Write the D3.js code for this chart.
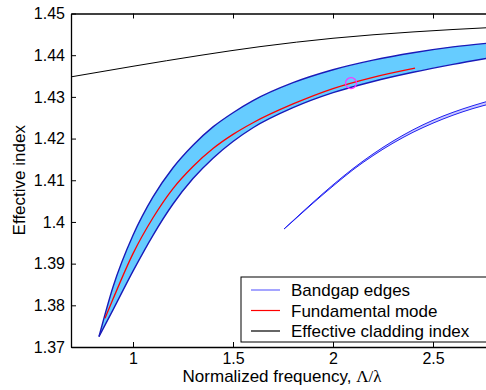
<!DOCTYPE html>
<html>
<head>
<meta charset="utf-8">
<script src="https://cdn.jsdelivr.net/npm/d3@7"></script>
<style>
  body { margin: 0; background: #fff; }
  svg { display: block; font-family: "Liberation Sans", Arial, sans-serif; }
</style>
</head>
<body>
<svg class="chart-svg" width="486" height="390"></svg>
<script>
// main band (shared frequency grid)
const bandFreq = [0.83, 0.9, 1.0, 1.1, 1.2, 1.3, 1.4, 1.5, 1.6, 1.8, 2.0, 2.2, 2.4, 2.6, 2.8]
const bandUpper = [1.3725, 1.3844, 1.3968, 1.4060, 1.4130, 1.4184, 1.4228, 1.4262, 1.4291, 1.4334, 1.4365, 1.4388, 1.4406, 1.4420, 1.4430]
const bandLower = [1.3725, 1.3789, 1.3882, 1.3968, 1.4043, 1.4104, 1.4153, 1.4193, 1.4226, 1.4274, 1.4310, 1.4337, 1.4359, 1.4378, 1.4395]

// second (narrow) band
const band2Freq = [1.755, 1.8, 1.9, 2.0, 2.1, 2.2, 2.3, 2.4, 2.5, 2.6, 2.7, 2.8]
const band2Upper = [1.3983, 1.4003, 1.4047, 1.4089, 1.4128, 1.4163, 1.4194, 1.4221, 1.4244, 1.4263, 1.4279, 1.4293]
const band2Lower = [1.3983, 1.4002, 1.4045, 1.4086, 1.4125, 1.4159, 1.4189, 1.4215, 1.4237, 1.4256, 1.4272, 1.4285]

// fundamental mode
const modeFreq = [0.86, 0.9, 1.0, 1.1, 1.2, 1.3, 1.4, 1.5, 1.6, 1.8, 2.0, 2.2, 2.41]
const modeIndex = [1.3769, 1.3815, 1.3924, 1.4010, 1.4080, 1.4133, 1.4176, 1.4210, 1.4238, 1.4283, 1.4320, 1.4347, 1.4369]

// effective cladding index
const cladFreq = [0.69, 1.0, 1.335, 1.635, 2.0, 2.4, 2.8]
const cladIndex = [1.4348, 1.43734, 1.43995, 1.44205, 1.44406, 1.44558, 1.44666]

// marked point
const markFreq = 2.09
const markIndex = 1.4333

const xTicks = [1, 1.5, 2, 2.5]
const yTicks = [1.37, 1.38, 1.39, 1.40, 1.41, 1.42, 1.43, 1.44, 1.45]
const legendLabels = ['Bandgap edges', 'Fundamental mode', 'Effective cladding index']
const legendColors = ['#6a6aff', '#ff0000', '#000000']

const margin = { left: 71, right: 493, top: 13.5, bottom: 347 }

const svg = d3.select('.chart-svg')

const xScale = d3.scaleLinear().domain([0.69, 2.8]).range([margin.left, margin.right])
const yScale = d3.scaleLinear().domain([1.37, 1.45]).range([margin.bottom, margin.top])

svg.append('defs').append('clipPath').attr('id', 'plot-clip')
  .append('rect')
  .attr('x', margin.left).attr('y', margin.top)
  .attr('width', margin.right - margin.left).attr('height', margin.bottom - margin.top)

const plot = svg.append('g').attr('clip-path', 'url(#plot-clip)')

const zip = (xs, ys) => xs.map((x, i) => [x, ys[i]])

const line = d3.line()
  .x(d => xScale(d[0]))
  .y(d => yScale(d[1]))
  .curve(d3.curveMonotoneX)

const area = d3.area()
  .x(d => xScale(d.f))
  .y0(d => yScale(d.lo))
  .y1(d => yScale(d.hi))
  .curve(d3.curveMonotoneX)

// main band fill + edges
const band = bandFreq.map((f, i) => ({ f, lo: bandLower[i], hi: bandUpper[i] }))
plot.append('path').datum(band)
  .attr('d', area).attr('fill', '#66ccff').attr('stroke', 'none')
plot.append('path').datum(zip(bandFreq, bandUpper))
  .attr('d', line).attr('fill', 'none').attr('stroke', '#1a1ab8').attr('stroke-width', 1.4)
plot.append('path').datum(zip(bandFreq, bandLower))
  .attr('d', line).attr('fill', 'none').attr('stroke', '#1a1ab8').attr('stroke-width', 1.4)

// narrow band
const band2 = band2Freq.map((f, i) => ({ f, lo: band2Lower[i], hi: band2Upper[i] }))
plot.append('path').datum(band2)
  .attr('d', area).attr('fill', '#c8c8ff').attr('stroke', 'none')
plot.append('path').datum(zip(band2Freq, band2Upper))
  .attr('d', line).attr('fill', 'none').attr('stroke', '#2020f0').attr('stroke-width', 1)
plot.append('path').datum(zip(band2Freq, band2Lower))
  .attr('d', line).attr('fill', 'none').attr('stroke', '#2020f0').attr('stroke-width', 1)

// fundamental mode
plot.append('path').datum(zip(modeFreq, modeIndex))
  .attr('d', line).attr('fill', 'none').attr('stroke', '#ff0000').attr('stroke-width', 1.3)

// cladding index
plot.append('path').datum(zip(cladFreq, cladIndex))
  .attr('d', line).attr('fill', 'none').attr('stroke', '#000').attr('stroke-width', 1)

plot.append('circle')
  .attr('cx', xScale(markFreq)).attr('cy', yScale(markIndex)).attr('r', 5.5)
  .attr('fill', 'none').attr('stroke', '#ff33ff').attr('stroke-width', 1.2)

// axes
const fmtY = d => String(+d.toFixed(2))
const fmtX = d => String(d)

svg.append('g').attr('class', 'x axis')
  .attr('transform', `translate(0,${margin.bottom})`)
  .call(d3.axisBottom(xScale).tickValues(xTicks).tickFormat(fmtX).tickSizeInner(-5).tickSizeOuter(0).tickPadding(6))
svg.append('g').attr('class', 'x axis top')
  .attr('transform', `translate(0,${margin.top})`)
  .call(d3.axisTop(xScale).tickValues(xTicks).tickFormat('').tickSizeInner(-5).tickSizeOuter(0))
svg.append('g').attr('class', 'y axis')
  .attr('transform', `translate(${margin.left},0)`)
  .call(d3.axisLeft(yScale).tickValues(yTicks).tickFormat(fmtY).tickSizeInner(-5).tickSizeOuter(0).tickPadding(6))
svg.append('g').attr('class', 'y axis right')
  .attr('transform', `translate(${margin.right},0)`)
  .call(d3.axisRight(yScale).tickValues(yTicks).tickFormat('').tickSizeInner(-5).tickSizeOuter(0))

svg.selectAll('.axis path').attr('stroke', '#000').attr('stroke-width', 1.3)
svg.selectAll('.axis line').attr('stroke', '#000').attr('stroke-width', 1)
svg.selectAll('.axis text').attr('fill', '#000').style('font-size', '16px')
  .style('font-family', '"Liberation Sans", Arial, sans-serif')

// axis labels
const xLabel = svg.append('text')
  .attr('x', (margin.left + margin.right) / 2).attr('y', 382)
  .attr('text-anchor', 'middle').style('font-size', '17px')
xLabel.append('tspan').text('Normalized frequency, ')
xLabel.append('tspan').style('font-family', '"Liberation Serif", "Times New Roman", serif').text('Λ/λ')

svg.append('text')
  .attr('transform', `translate(25,${(margin.top + margin.bottom) / 2}) rotate(-90)`)
  .attr('text-anchor', 'middle').style('font-size', '17px')
  .text('Effective index')

// legend
const legend = svg.append('g').attr('class', 'legend')
legend.append('rect')
  .attr('x', 241).attr('y', 277).attr('width', 252).attr('height', 65)
  .attr('fill', '#fff').attr('stroke', '#000').attr('stroke-width', 1)
legendLabels.forEach((label, i) => {
  const cy = 290 + i * 20.5
  legend.append('line')
    .attr('x1', 251).attr('x2', 280).attr('y1', cy).attr('y2', cy)
    .attr('stroke', legendColors[i]).attr('stroke-width', 1.2)
  legend.append('text')
    .attr('x', 291).attr('y', cy + 6)
    .style('font-size', '17px')
    .text(label)
})
</script>
</body>
</html>
